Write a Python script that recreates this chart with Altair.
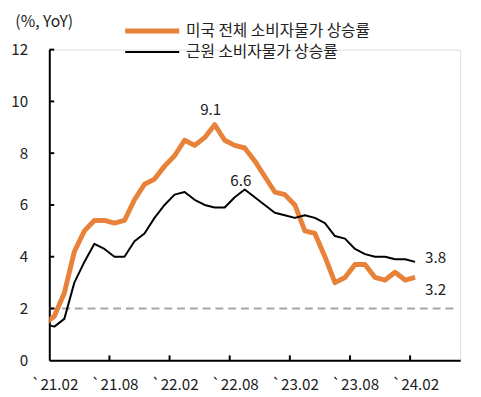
import altair as alt
import pandas as pd

months = ["2021-01","2021-02","2021-03","2021-04","2021-05","2021-06","2021-07","2021-08","2021-09","2021-10","2021-11","2021-12",
          "2022-01","2022-02","2022-03","2022-04","2022-05","2022-06","2022-07","2022-08","2022-09","2022-10","2022-11","2022-12",
          "2023-01","2023-02","2023-03","2023-04","2023-05","2023-06","2023-07","2023-08","2023-09","2023-10","2023-11","2023-12",
          "2024-01","2024-02"]
headline = [1.4, 1.7, 2.6, 4.2, 5.0, 5.4, 5.4, 5.3, 5.4, 6.2, 6.8, 7.0,
            7.5, 7.9, 8.5, 8.3, 8.6, 9.1, 8.5, 8.3, 8.2, 7.7, 7.1, 6.5,
            6.4, 6.0, 5.0, 4.9, 4.0, 3.0, 3.2, 3.7, 3.7, 3.2, 3.1, 3.4,
            3.1, 3.2]
core = [1.4, 1.3, 1.6, 3.0, 3.8, 4.5, 4.3, 4.0, 4.0, 4.6, 4.9, 5.5,
        6.0, 6.4, 6.5, 6.2, 6.0, 5.9, 5.9, 6.3, 6.6, 6.3, 6.0, 5.7,
        5.6, 5.5, 5.6, 5.5, 5.3, 4.8, 4.7, 4.3, 4.1, 4.0, 4.0, 3.9,
        3.9, 3.8]
series_names = ["미국 전체 소비자물가 상승률", "근원 소비자물가 상승률"]
tick_labels = ["`21.02", "`21.08", "`22.02", "`22.08", "`23.02", "`23.08", "`24.02"]
y_ticks = [0, 2, 4, 6, 8, 10, 12]
target = 2

FONT = "Noto Sans CJK KR"
ORANGE = "#E8823A"
TXT = "#222222"
W, H = 418, 316

# month index relative to 2021-02
idx = [(int(m[:4]) - 2021) * 12 + int(m[5:]) - 2 for m in months]
df = pd.DataFrame({
    "i": idx * 2,
    "v": headline + core,
    "s": [series_names[0]] * len(idx) + [series_names[1]] * len(idx),
})
label_idx = [tick_labels.index(t) * 6 for t in tick_labels]
label_expr = "[" + ",".join("'" + t + "'" for t in tick_labels) + "][round(datum.value/6)]"

xs = alt.Scale(domain=[-0.5, 40.5], nice=False, zero=False)
ys = alt.Scale(domain=[0, 12], nice=False)

def leg():
    return alt.Legend(orient="none", legendX=111, legendY=-31, title=None,
                      symbolType="M-5,0L1,0", symbolSize=336, labelFont=FONT,
                      labelFontSize=16, labelColor=TXT, labelOffset=4, labelLimit=0,
                      rowPadding=1, padding=0)

color = alt.Color("s:N", scale=alt.Scale(domain=series_names, range=[ORANGE, "#000000"]), legend=leg())
swidth = alt.StrokeWidth("s:N", scale=alt.Scale(domain=series_names, range=[5, 2]), legend=leg())

xaxis = alt.Axis(values=label_idx, labelExpr=label_expr, ticks=False, grid=False,
                 domainColor="#000000", domainWidth=2, labelFont=FONT, labelFontSize=15.5,
                 labelColor=TXT, labelPadding=18, title=None)
yaxis = alt.Axis(values=y_ticks, ticks=False, grid=False, domainColor="#000000", domainWidth=2,
                 labelFont=FONT, labelFontSize=15.5, labelColor=TXT, labelPadding=22,
                 title="(%, YoY)", titleAngle=0, titleAlign="left", titleBaseline="middle",
                 titleX=-35, titleY=-29, titleFont=FONT, titleFontSize=16, titleFontWeight="normal",
                 titleColor=TXT)

base = alt.Chart(df)
dash = alt.Chart(pd.DataFrame({"y": [target]})).mark_rule(
    color="#A6A6A6", strokeWidth=2, strokeDash=[8, 5]
).encode(x=alt.datum(-0.5, scale=xs), x2=alt.datum(40), y=alt.Y("y:Q", scale=ys, axis=yaxis))

line_h = base.transform_filter(alt.datum.s == series_names[0]).mark_line(clip=True, strokeJoin="round").encode(
    x=alt.X("i:Q", scale=xs, axis=xaxis), y=alt.Y("v:Q", scale=ys, axis=yaxis), color=color, strokeWidth=swidth)
line_c = base.transform_filter(alt.datum.s == series_names[1]).mark_line(clip=True, strokeJoin="round").encode(
    x=alt.X("i:Q", scale=xs), y=alt.Y("v:Q", scale=ys), color=color, strokeWidth=swidth)

yt = alt.Chart(pd.DataFrame({"y": y_ticks[1:]})).mark_rule(color="#000000", strokeWidth=2).encode(
    x=alt.value(0), x2=alt.value(5), y=alt.Y("y:Q", scale=ys))
xt = alt.Chart(pd.DataFrame({"x": [k - 0.5 for k in label_idx[1:]]})).mark_rule(color="#000000", strokeWidth=2).encode(
    x=alt.X("x:Q", scale=xs), y=alt.value(H), y2=alt.value(H - 5))

def ann(vals, month, dx, dy, align="center"):
    k = months.index(month)
    d = pd.DataFrame({"i": [idx[k]], "v": [vals[k]], "t": [f"{vals[k]:.1f}"]})
    return alt.Chart(d).mark_text(font=FONT, fontSize=15.5, color=TXT, dx=dx, dy=dy, align=align,
                                  baseline="middle").encode(
        x=alt.X("i:Q", scale=xs), y=alt.Y("v:Q", scale=ys), text="t:N")

a1 = ann(headline, "2022-06", -4, -15)
a2 = ann(core, "2022-09", -4, -8)
a3 = ann(core, "2024-02", 10, -4, "left")
a4 = ann(headline, "2024-02", 10, 13, "left")

chart = alt.layer(dash, line_h, line_c, yt, xt, a1, a2, a3, a4).resolve_scale(
    color="shared", strokeWidth="shared"
).properties(
    width=W, height=H,
    autosize=alt.AutoSizeParams(type="none"),
    padding={"left": 42, "top": 39, "right": 13, "bottom": 34},
).configure_view(stroke=None).configure(background="white")

chart.save("out.html", embed_options={"renderer": "svg", "actions": False})
